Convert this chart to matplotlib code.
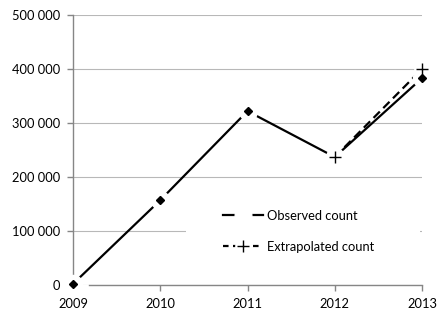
import matplotlib
matplotlib.use("Agg")
import matplotlib.pyplot as plt
from matplotlib.patches import Rectangle
from matplotlib.legend_handler import HandlerTuple
from matplotlib.ticker import FuncFormatter, FixedLocator

plt.rcParams['font.family'] = ['Lato', 'DejaVu Sans']

years = [2009, 2010, 2011, 2012, 2013]
observed = [2000, 157000, 322000, 237000, 383000]
diamond_idx = [0, 1, 2, 4]
extrap_years = [2012, 2013]
extrapolated = [237000, 400000]
yticks = [0, 100000, 200000, 300000, 400000, 500000]
labels = ["Observed count", "Extrapolated count"]

W, H = 437, 313
fig = plt.figure(figsize=(W / 100, H / 100), dpi=100)
ax = fig.add_axes([73 / W, 1 - 285 / H, (422 - 73) / W, (285 - 15) / H])
ax.set_xlim(2009, 2013)
ax.set_ylim(0, 500000)

axis_col = '#868686'
for s in ['top', 'right']:
    ax.spines[s].set_visible(False)
for s in ['left', 'bottom']:
    ax.spines[s].set_color(axis_col)
    ax.spines[s].set_linewidth(1.0)
ax.spines['bottom'].set_bounds(2009.18, 2013)
ax.spines['left'].set_bounds(18000, 500000)

ax.yaxis.set_major_locator(FixedLocator(yticks))
ax.yaxis.set_major_formatter(FuncFormatter(lambda v, p: f"{int(v):,}".replace(",", " ")))
ax.xaxis.set_major_locator(FixedLocator(years))
ax.tick_params(axis='both', colors=axis_col, labelcolor='black', labelsize=9.3,
               length=4, width=1.0, direction='out')
ax.tick_params(axis='y', pad=5)
ax.tick_params(axis='x', pad=5)
ax.grid(axis='y', color='#b8b8b8', linewidth=0.8)
ax.set_axisbelow(True)

# observed line
ax.plot(years, observed, color='black', lw=1.6, solid_capstyle='butt', zorder=3)
# extrapolated dashed line
ax.plot(extrap_years, extrapolated, color='black', lw=1.6, dashes=(4, 2.2), zorder=3)
# white halos around points
ax.plot(years, observed, ls='none', marker='o', ms=13, mfc='white', mec='white',
        zorder=4, clip_on=False)
ax.plot(extrap_years, extrapolated, ls='none', marker='o', ms=11, mfc='white', mec='white',
        zorder=4, clip_on=False)
# visible markers
ax.plot(years, observed, ls='none', marker='D', ms=4.5, color='black',
        markevery=diamond_idx, zorder=5, clip_on=False)
ax.plot(extrap_years, extrapolated, ls='none', marker='+', ms=9, mew=1.0, color='black',
        zorder=5, clip_on=False)

# legend background
ax.add_patch(Rectangle((186 / W, 1 - 270 / H), (420 - 186) / W, (270 - 190) / H,
                       transform=fig.transFigure, facecolor='white', edgecolor='none',
                       zorder=2, clip_on=False))

h_obs = plt.Line2D([], [], color='black', lw=1.6, marker='o', ms=12, mfc='white', mec='white')
h_ext_line = plt.Line2D([], [], color='black', lw=1.6, dashes=(2.5, 2.0), marker='o', ms=11,
                        mfc='white', mec='white')
h_ext_mark = plt.Line2D([], [], ls='none', marker='+', ms=9, mew=1.0, color='black')
leg = fig.legend([h_obs, (h_ext_line, h_ext_mark)], labels,
                 handler_map={tuple: HandlerTuple(ndivide=1, pad=0)},
                 loc='upper left', bbox_to_anchor=(223 / W, 1 - 210 / H),
                 bbox_transform=fig.transFigure, frameon=False, fontsize=9.3,
                 handlelength=3.1, handletextpad=0.3, labelspacing=1.45,
                 borderpad=0, borderaxespad=0, numpoints=1)

fig.savefig("out.png", dpi=100)
